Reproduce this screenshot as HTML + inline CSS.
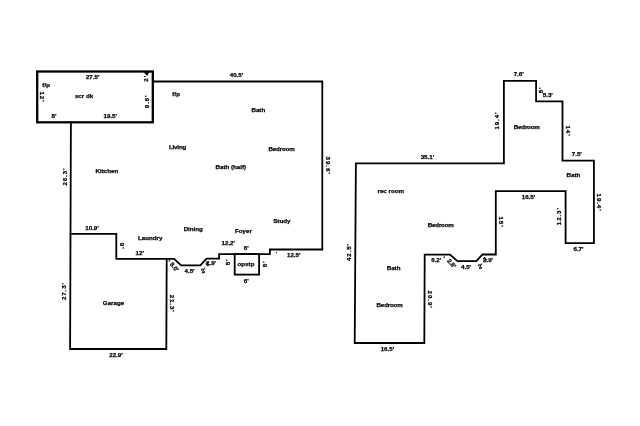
<!DOCTYPE html>
<html><head><meta charset="utf-8">
<style>
html,body{margin:0;padding:0;background:#fff;width:640px;height:426px;overflow:hidden}
svg{display:block;filter:blur(0.3px)}
text{font-family:"Liberation Sans",sans-serif;font-weight:bold;font-size:6.2px;fill:#000;stroke:#000;stroke-width:0.25px}
</style></head><body>
<svg width="640" height="426" viewBox="0 0 640 426">
<g fill="none" stroke="#000" stroke-linejoin="miter" stroke-linecap="square">
<rect x="37.2" y="71.5" width="115.6" height="50.8" stroke-width="2.3"/>
<polygon fill="#000" stroke="none" points="143.5,72 149.5,72 147,76"/>
<polyline stroke-width="1.8" points="153,81.5 322.3,81.5 322.3,249.5 269.9,249.5 269.9,254.1 219.1,254.1 219.1,258.7 206.5,258.7 200.4,265.4 181.2,265.4 174.1,258.8 116.3,258.8 116.3,233.8 70.5,233.8"/>
<polyline stroke-width="1.8" points="70.9,122.5 70.1,349 166.3,349 166.7,258.8"/>
<rect x="234.7" y="254.1" width="24.4" height="20.5" stroke-width="1.8"/>
<polygon stroke-width="1.8" points="355.9,163.4 503.9,163.4 503.9,80.8 536.1,80.8 536.1,101.3 562.5,101.3 562.5,160.6 593.9,160.6 593.9,243.1 565.6,243.1 565.6,191.2 495.8,191.2 495.8,254.5 482.5,254.5 476.3,261.2 457.5,261.2 450,254.6 424.7,254.6 424.3,343 354.7,343"/>
</g>
<g text-anchor="middle" dominant-baseline="central">
<text x="92.69" y="76.01">27.5'</text>
<text transform="translate(145.7,78.34) rotate(-90)" style="letter-spacing:0.9px">2'</text>
<text x="46.15" y="84.7">f/p</text>
<text transform="translate(42.61,97.03) rotate(90)" style="letter-spacing:0.9px">12'</text>
<text x="84.0" y="95.58">scr dk</text>
<text transform="translate(146.32,101.34) rotate(-90)" style="letter-spacing:0.9px">9.6'</text>
<text x="53.92" y="115.78">8'</text>
<text x="110.27" y="115.16">19.5'</text>
<text x="176.15" y="93.05">f/p</text>
<text x="177.52" y="146.24" style="letter-spacing:-0.18px">Living</text>
<text x="236.5" y="74.69">40.5'</text>
<text x="258.32" y="109.24">Bath</text>
<text x="281.52" y="148.62" style="letter-spacing:-0.18px">Bedroom</text>
<text transform="translate(328.3,165.58) rotate(90)" style="letter-spacing:0.9px">39.6'</text>
<text x="230.79" y="166.8">Bath (half)</text>
<text x="281.81" y="220.66">Study</text>
<text x="193.27" y="228.55">Dining</text>
<text x="243.5" y="230.2">Foyer</text>
<text x="228.27" y="242.12">12.2'</text>
<text x="246.23" y="247.2">6'</text>
<text x="246.0" y="263.55">opstp</text>
<text x="246.25" y="280.7">6'</text>
<text transform="translate(264.32,263.88) rotate(-90)" style="letter-spacing:0.9px">5'</text>
<text x="293.75" y="254.66">12.5'</text>
<text x="189.54" y="270.85">4.5'</text>
<text transform="translate(203.47,270.17) rotate(-25)">2'</text>
<text x="211.06" y="262.6">2.9'</text>
<text transform="translate(227.24,262.0) rotate(-90)" style="letter-spacing:0.9px">5'</text>
<text transform="translate(174.59,266.67) rotate(50)">8.0'</text>
<text transform="translate(64.36,176.57) rotate(-90)" style="letter-spacing:0.9px">26.3'</text>
<text x="106.96" y="170.59">Kitchen</text>
<text x="91.96" y="227.04">10.9'</text>
<text transform="translate(122.0,246.16) rotate(90)" style="letter-spacing:0.9px">9'</text>
<text x="139.68" y="252.24">12'</text>
<text x="150.21" y="237.2">Laundry</text>
<text transform="translate(63.24,291.11) rotate(-90)" style="letter-spacing:0.9px">27.3'</text>
<text transform="translate(172.26,303.66) rotate(90)" style="letter-spacing:0.9px">21.3'</text>
<text x="113.5" y="302.66">Garage</text>
<text x="116.0" y="354.04">22.9'</text>
<text x="518.69" y="73.7">7.6'</text>
<text transform="translate(540.28,89.9) rotate(-90)" style="letter-spacing:0.9px">5'</text>
<text x="547.77" y="94.36">5.3'</text>
<text transform="translate(496.82,120.57) rotate(-90)" style="letter-spacing:0.9px">19.4'</text>
<text x="526.69" y="126.08" style="letter-spacing:-0.18px">Bedroom</text>
<text transform="translate(568.15,130.99) rotate(90)" style="letter-spacing:0.9px">14'</text>
<text x="576.77" y="153.95">7.5'</text>
<text x="573.36" y="174.66">Bath</text>
<text transform="translate(599.65,202.54) rotate(90)" style="letter-spacing:0.9px">19.4'</text>
<text x="528.5" y="196.7">16.5'</text>
<text transform="translate(558.36,216.19) rotate(-90)" style="letter-spacing:0.9px">12.3'</text>
<text transform="translate(501.76,221.99) rotate(90)" style="letter-spacing:0.9px">15'</text>
<text x="578.5" y="248.74">6.7'</text>
<text x="436.25" y="259.96">6.2'</text>
<text transform="translate(451.91,263.13) rotate(50)">2.8'</text>
<text x="466.04" y="266.12">4.5'</text>
<text transform="translate(480.38,266.05) rotate(-25)">2'</text>
<text x="488.06" y="259.28">2.9'</text>
<text transform="translate(430.0,299.62) rotate(90)" style="letter-spacing:0.9px">20.9'</text>
<text x="427.42" y="156.24">35.1'</text>
<text x="390.75" y="190.8">rec room</text>
<text transform="translate(348.86,252.02) rotate(-90)" style="letter-spacing:0.9px">42.5'</text>
<text x="440.69" y="224.66" style="letter-spacing:-0.18px">Bedroom</text>
<text x="393.57" y="267.62">Bath</text>
<text x="389.54" y="304.08" style="letter-spacing:-0.18px">Bedroom</text>
<text x="387.42" y="348.04">16.5'</text>
<text transform="translate(207.46,264.0) rotate(-45)" style="font-size:5.5px">2</text>
<text transform="translate(485.0,258.88) rotate(-45)" style="font-size:5.5px">2</text>
<text transform="translate(168.9,262.0) rotate(20)" style="font-size:6px">'</text>
<text transform="translate(443.2,258.2) rotate(45)" style="font-size:6px">'</text>
<text x="276.5" y="250.5" style="font-size:5px">.</text>
</g>
</svg>
</body></html>
